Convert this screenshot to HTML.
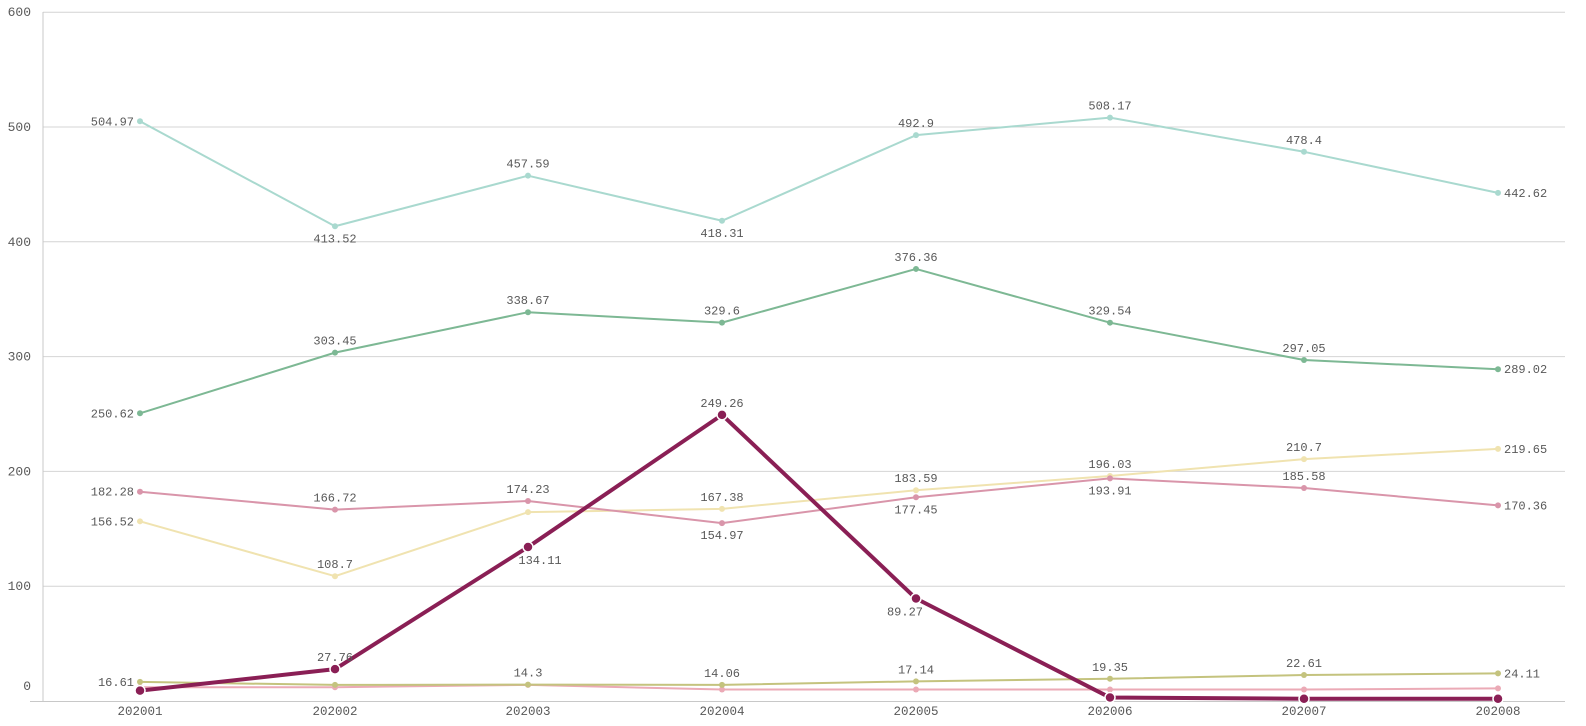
<!DOCTYPE html>
<html><head><meta charset="utf-8"><style>
html,body{margin:0;padding:0;background:#fff;}
svg{display:block;}
text{font-family:"Liberation Mono","DejaVu Sans Mono",monospace;font-size:12px;fill:#595959;}
</style></head><body>
<svg id="c" width="1586" height="726" xmlns="http://www.w3.org/2000/svg"></svg>
<script>
const svg=document.getElementById('c');const NS='http://www.w3.org/2000/svg';
function el(t,a,txt){const e=document.createElementNS(NS,t);for(const k in a)e.setAttribute(k,a[k]);if(txt!==undefined)e.textContent=txt;svg.appendChild(e);return e;}
const X=[140,335,528,722,916,1110,1304,1498];
const y0=701,k=1.148;const Y=v=>y0-v*k;
for(let i=1;i<=6;i++){const y=Y(i*100);
 el('line',{x1:43,x2:1565,y1:y,y2:y,stroke:'#d4d4d4','stroke-width':1});
 el('text',{x:31,y:y+4,'text-anchor':'end',style:'font-size:13px'},String(i*100));}
el('text',{x:31,y:690,'text-anchor':'end',style:'font-size:13px'},'0');
el('line',{x1:43,x2:43,y1:12,y2:701,stroke:'#c8c8c8'});
el('line',{x1:30,x2:1565,y1:701.5,y2:701.5,stroke:'#c8c8c8'});
['202001','202002','202003','202004','202005','202006','202007','202008'].forEach((s,i)=>el('text',{x:X[i],y:715,'text-anchor':'middle',style:'font-size:12.5px'},s));
const S=[
 {c:'#a9d9cf',w:2,v:[504.97,413.52,457.59,418.31,492.9,508.17,478.4,442.62],p:'LBABAAAR'},
 {c:'#7db894',w:2,v:[250.62,303.45,338.67,329.6,376.36,329.54,297.05,289.02],p:'LAAAAAAR'},
 {c:'#f0e3b0',w:2,v:[156.52,108.7,164.5,167.38,183.59,196.03,210.7,219.65],p:'LANAAAAR'},
 {c:'#d995aa',w:2,v:[182.28,166.72,174.23,154.97,177.45,193.91,185.58,170.36],p:'LAABBBAR'},
 {c:'#ebaab6',w:2,v:[12,12,14,10,10,10,10,11],p:'NNNNNNNN'},
 {c:'#c4c37e',w:2,v:[16.61,14,14.3,14.06,17.14,19.35,22.61,24.11],p:'LNAAAAAR'},
 {c:'#8a1f55',w:4,v:[9,27.76,134.11,249.26,89.27,3,2,2],p:'NAcAbNNN',big:1}
];
S.forEach(s=>{
 el('polyline',{points:s.v.map((v,i)=>X[i]+','+Y(v)).join(' '),fill:'none',stroke:s.c,'stroke-width':s.w,'stroke-linejoin':'round'});
 s.v.forEach((v,i)=>{const x=X[i],y=Y(v);
  if(s.big)el('circle',{cx:x,cy:y,r:5,fill:s.c,stroke:'#fff','stroke-width':1.5});
  else el('circle',{cx:x,cy:y,r:3,fill:s.c});
  const p=s.p[i];const t=String(v);
  if(p=='L')el('text',{x:x-6,y:y+4,'text-anchor':'end'},t);
  else if(p=='R')el('text',{x:x+6,y:y+4,'text-anchor':'start'},t);
  else if(p=='A')el('text',{x:x,y:y-8,'text-anchor':'middle'},t);
  else if(p=='B')el('text',{x:x,y:y+16,'text-anchor':'middle'},t);
  else if(p=='b')el('text',{x:x-11,y:y+17,'text-anchor':'middle'},t);
  else if(p=='c')el('text',{x:x+12,y:y+17,'text-anchor':'middle'},t);
 });
});
</script>
</body></html>
